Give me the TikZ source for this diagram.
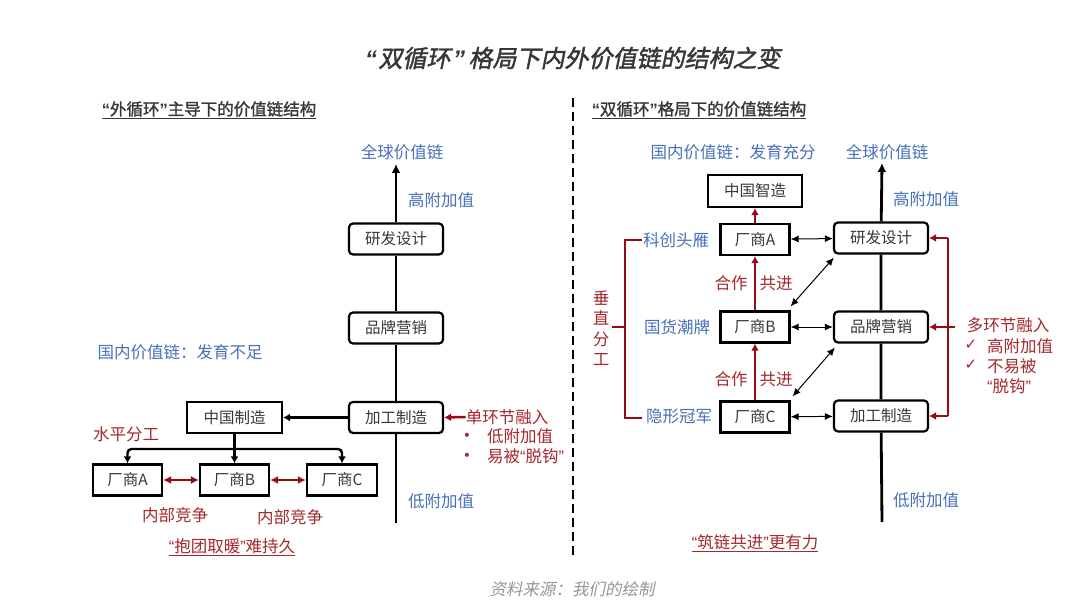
\documentclass[tikz,border=0pt]{standalone}
\usepackage{fontspec}
\usetikzlibrary{arrows.meta}
\setmainfont{Noto Sans CJK SC}
\newfontfamily\titlef[FakeSlant=0.2,FakeBold=1.6]{Noto Sans CJK SC}
\newfontfamily\subf[FakeBold=1.4]{Noto Sans CJK SC}
\newfontfamily\srcf[FakeSlant=0.2]{Noto Sans CJK SC}
\newfontfamily\symf{DejaVu Sans}
\newfontfamily\latf{Liberation Sans}
\newfontfamily\lattf[FakeSlant=0.2]{Liberation Sans}
\newcommand\fs[1]{\fontsize{#1}{#1}\selectfont}
\newcommand\qL{{\latf “}}
\newcommand\qR{{\latf ”}}
\newcommand\qLb{{\latf\bfseries “}}
\newcommand\qRb{{\latf\bfseries ”}}
\newcommand\qLt{{\lattf\bfseries “}\hspace{3pt}}
\newcommand\qRt{\hspace{1pt}{\lattf\bfseries ”}\hspace{5pt}}
\definecolor{blueC}{RGB}{72,112,186}
\definecolor{redC}{RGB}{165,40,45}
\definecolor{redA}{RGB}{150,12,18}
\definecolor{titleC}{RGB}{55,55,55}
\definecolor{srcC}{RGB}{150,150,150}
\tikzset{
  box/.style={draw=black, line width=2.2pt, minimum height=31pt, inner sep=0pt, font=\fs{15.5}, text=black!78},
  rbox/.style={box, rounded corners=4pt, minimum width=94pt},
  sbox/.style={box, minimum width=69pt},
  bl/.style={text=blueC, font=\fs{16.5}, inner sep=0pt},
  rd/.style={text=redC, font=\fs{16.5}, inner sep=0pt},
  sub/.style={text=titleC, font=\subf\fs{16.5}, inner sep=0pt},
  mainln/.style={line width=2.8pt, draw=black},
  blkarr/.style={line width=2.4pt, draw=black, -{Latex[length=7pt,width=8pt]}},
  redln/.style={line width=2.5pt, draw=redA},
  redarr/.style={line width=2.5pt, draw=redA, -{Latex[length=7pt,width=8pt]}},
  reddbl/.style={line width=1.6pt, draw=redA, {Latex[length=8pt,width=8pt]}-{Latex[length=8pt,width=8pt]}},
  thinarr/.style={line width=1pt, draw=black, {Latex[length=8pt,width=7pt]}-{Latex[length=8pt,width=7pt]}},
}
\begin{document}
\begin{tikzpicture}[x=1pt,y=-1pt]
\useasboundingbox (0,0) rectangle (1080,615);
\fill[white] (0,0) rectangle (1080,615);

% title and source
\node[text=titleC, font=\titlef\fs{24}, inner sep=0pt] (title) at (572,58) {\qLt 双循环\qRt 格局下内外价值链的结构之变};
\node[text=srcC, font=\srcf\fs{16.5}, inner sep=0pt] (src) at (572,589) {资料来源：我们的绘制};

% divider
\coordinate (d1) at (573,98);
\coordinate (d2) at (573,558);
\draw[line width=2.4pt, dash pattern=on 9pt off 5pt] (d1) -- (d2);

% ---------------- left panel ----------------
\node[sub] (st1) at (209,110) {\underline{\qLb 外循环\qRb 主导下的价值链结构}};
\node[rbox] (rd1) at (396,239) {研发设计};
\node[rbox] (pp1) at (396,328) {品牌营销};
\node[rbox] (jg1) at (396,417.5) {加工制造};
\node[box, minimum width=95pt] (zg1) at (234.5,417.5) {中国制造};
\node[sbox] (fa1) at (127.5,480) {厂商A};
\node[sbox] (fb1) at (234.5,480) {厂商B};
\node[sbox, minimum width=70pt] (fc1) at (342,480) {厂商C};
\coordinate (top1) at (396,164);
\coordinate (bot1) at (396,523);
\draw[mainln] (bot1) -- (jg1) (jg1) -- (pp1) (pp1) -- (rd1);
\draw[mainln, -{Latex[length=9pt,width=9pt]}] (rd1) -- (top1);
\draw[blkarr] (jg1) -- (zg1);
\coordinate (br1) at (234.5,449);
\draw[line width=2.4pt] (zg1) -- (br1);
\draw[blkarr, rounded corners=4pt] (br1) -| (fa1.north);
\draw[blkarr, rounded corners=4pt] (br1) -| (fc1.north);
\draw[blkarr] (br1) -- (fb1.north);
\draw[reddbl] (fa1) -- (fb1);
\draw[reddbl] (fb1) -- (fc1);

\node[bl] (qq1) at (402,152) {全球价值链};
\node[bl] (gf1) at (441,200) {高附加值};
\node[bl] (df1) at (441,501) {低附加值};
\node[bl] (gn1) at (180,352) {国内价值链：发育不足};
\node[rd] (dhj) at (507,417) {单环节融入};
\draw[redarr] (dhj.west) -- (jg1.east);
\node[rd, font=\symf\fs{14}] (bu1) at (467,437) {•};
\node[rd, anchor=west] (lv1) at (487,436) {低附加值};
\node[rd, font=\symf\fs{14}] (bu2) at (467,457) {•};
\node[rd, anchor=west] (lv2) at (487,456) {易被\qL 脱钩\qR};
\node[rd] (spfg) at (126,434) {水平分工};
\node[rd] (nb1) at (175,515) {内部竞争};
\node[rd] (nb2) at (290,517) {内部竞争};
\node[rd] (btqn) at (232,547) {\underline{\qL 抱团取暖\qR 难持久}};

% ---------------- right panel ----------------
\node[sub] (st2) at (699,110) {\underline{\qLb 双循环\qRb 格局下的价值链结构}};
\node[rbox] (rd2) at (881,238) {研发设计};
\node[rbox] (pp2) at (881,327) {品牌营销};
\node[rbox] (jg2) at (881,416) {加工制造};
\node[box, minimum width=94pt, minimum height=32pt] (zz2) at (755,191) {中国智造};
\node[sbox] (fa2) at (755,239.5) {厂商A};
\node[sbox] (fb2) at (755,327) {厂商B};
\node[sbox] (fc2) at (755,417) {厂商C};
\coordinate (top2) at (882,163);
\coordinate (bot2) at (882,522);
\draw[mainln] (bot2) -- (jg2) (jg2) -- (pp2) (pp2) -- (rd2);
\draw[mainln, -{Latex[length=9pt,width=9pt]}] (rd2) -- (top2);
\draw[redarr] (fa2) -- (zz2);
\draw[redarr] (fb2) -- (fa2);
\draw[redarr] (fc2) -- (fb2);
\draw[thinarr] (fa2) -- (rd2);
\draw[thinarr] (fb2) -- (pp2);
\draw[thinarr] (fc2) -- (jg2);
\draw[thinarr] ([yshift=4pt]fb2.north east) -- ([xshift=1pt,yshift=-3pt]rd2.south west);
\draw[thinarr] ([xshift=2pt,yshift=4pt]fc2.north east) -- ([xshift=2pt,yshift=-4pt]pp2.south west);

\node[rd] (hz1) at (731,283) {合作};
\node[rd] (gj1) at (776,283) {共进};
\node[rd] (hz2) at (731,379) {合作};
\node[rd] (gj2) at (776,379) {共进};

\node[bl] (gn2) at (733,152) {国内价值链：发育充分};
\node[bl] (qq2) at (887,152) {全球价值链};
\node[bl] (gf2) at (926,199) {高附加值};
\node[bl] (df2) at (926,500) {低附加值};
\node[bl] (kc) at (676,240) {科创头雁};
\node[bl] (gh) at (677,327) {国货潮牌};
\node[bl] (yx) at (679,416) {隐形冠军};

% left bracket
\coordinate (lb1) at (642,240);
\coordinate (lb2) at (625,240);
\coordinate (lb3) at (625,418);
\coordinate (lb4) at (642,418);
\coordinate (lm1) at (625,327);
\coordinate (lm2) at (612,327);
\draw[redln] (lb1) -- (lb2) -- (lb3) -- (lb4);
\draw[redln] (lm1) -- (lm2);
\node[rd, align=center, font=\fontsize{16.5}{20.5}\selectfont] (czfg) at (601,328) {垂\\直\\分\\工};

% right bracket
\coordinate (rb1) at (948,238);
\coordinate (rb2) at (948,416);
\coordinate (rm) at (955,327);
\draw[redln] (rb1) -- (rb2);
\draw[redarr] (rb1) -- (rd2.east);
\draw[redarr] (rb2) -- (jg2.east);
\draw[redarr] (rm) -- (pp2.east);
\node[rd] (dhj2) at (1008,325) {多环节融入};
\node[rd, font=\symf\fs{15}] (ck1) at (971,345) {✓};
\node[rd, anchor=west] (gv2) at (987,346) {高附加值};
\node[rd, font=\symf\fs{15}] (ck2) at (971,365) {✓};
\node[rd, anchor=west] (by2) at (987,366) {不易被};
\node[rd, anchor=west] (tg2) at (987,386) {\qL 脱钩\qR};
\node[rd] (zl) at (755,543) {\underline{\qL 筑链共进\qR 更有力}};
\end{tikzpicture}
\end{document}
